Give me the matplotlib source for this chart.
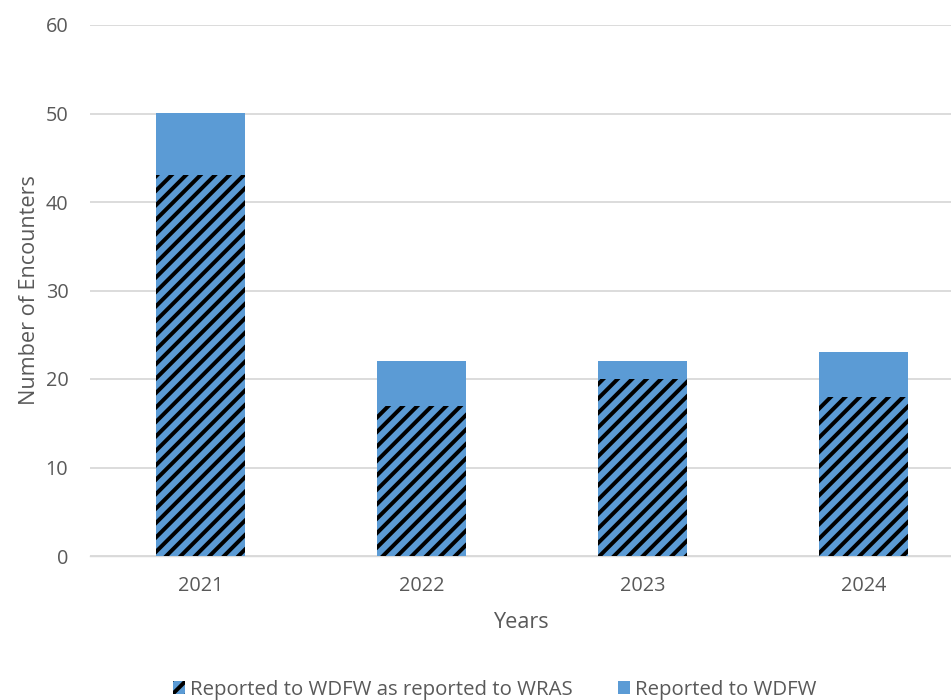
import matplotlib
matplotlib.use('Agg')
import matplotlib.pyplot as plt
import numpy as np

years = ['2021', '2022', '2023', '2024']
wras_reported = [43, 17, 20, 18]
wdfw_only = [7, 5, 2, 5]

label_wras = 'Reported to WDFW as reported to WRAS'
label_wdfw = 'Reported to WDFW'

BLUE = '#5B9BD5'
TEXT = '#595959'
GRID = '#D9D9D9'

DPI = 130
plt.rcParams['font.family'] = ['Open Sans', 'DejaVu Sans']
plt.rcParams['hatch.linewidth'] = 2.2

fig = plt.figure(figsize=(951 / DPI, 700 / DPI), dpi=DPI)
ax = fig.add_axes([90 / 951, 1 - 556 / 700, 861 / 951, (556 - 25) / 700])

x = np.arange(len(years))
width = 0.4

ax.bar(x, wras_reported, width, color=BLUE, edgecolor='black',
       linewidth=0, hatch='///', label=label_wras, zorder=3)
ax.bar(x, wdfw_only, width, bottom=wras_reported, color=BLUE,
       linewidth=0, label=label_wdfw, zorder=3)

ax.set_xlim(-0.5, -0.5 + 861 / 221)
ax.set_ylim(0, 60)
ax.set_yticks(range(0, 61, 10))
ax.set_xticks(x)
ax.set_xticklabels(years)

ax.grid(axis='y', color=GRID, linewidth=1, zorder=0)
for side in ['top', 'right', 'left']:
    ax.spines[side].set_visible(False)
ax.spines['bottom'].set_color(GRID)
ax.tick_params(length=0, colors=TEXT, labelsize=11)
ax.tick_params(axis='y', pad=12)
ax.tick_params(axis='x', pad=11)

ax.set_xlabel('Years', color=TEXT, fontsize=12, labelpad=9)
ax.set_ylabel('Number of Encounters', color=TEXT, fontsize=12, labelpad=3)

fig.legend(loc='center', bbox_to_anchor=(495 / 951, 1 - 690 / 700),
           ncol=2, frameon=False, fontsize=11.3, labelcolor=TEXT,
           handlelength=0.6, handleheight=0.6, handletextpad=0.25,
           columnspacing=2.2)

fig.savefig('out.png', dpi=DPI)
